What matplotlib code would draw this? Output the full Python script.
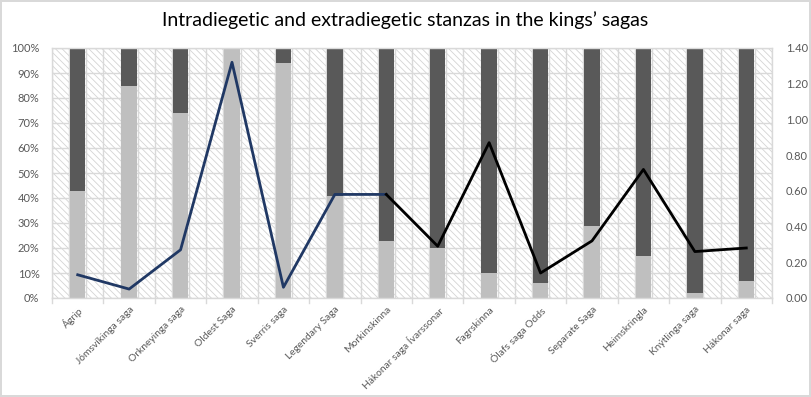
import numpy as np
import matplotlib
matplotlib.use("Agg")
import matplotlib.pyplot as plt
from matplotlib.patches import Rectangle
from matplotlib.ticker import PercentFormatter, FixedLocator

# Sagas and their share of intradiegetic stanzas (light) vs extradiegetic (dark)
sagas = ["Ágrip", "Jómsvíkinga saga", "Orkneyinga saga", "Oldest Saga", "Sverris saga",
         "Legendary Saga", "Morkinskinna", "Hákonar saga Ívarssonar", "Fagrskinna",
         "Ólafs saga Odds", "Separate Saga", "Heimskringla", "Knýtlinga saga", "Hákonar saga"]
intra_share = [0.43, 0.85, 0.74, 1.00, 0.94, 0.41, 0.23, 0.20, 0.10, 0.06, 0.29, 0.17, 0.02, 0.07]
extra_share = [1 - v for v in intra_share]

# Ratio series on the secondary axis: early sagas (blue) and later sagas (black)
ratio_early = [0.13, 0.05, 0.27, 1.32, 0.06, 0.58, 0.58]
ratio_late = [0.58, 0.29, 0.87, 0.14, 0.32, 0.72, 0.26, 0.28]

left_ticks = np.arange(0, 1.01, 0.1)
right_ticks = np.arange(0, 1.41, 0.2)

plt.rcParams["font.family"] = ["Lato", "DejaVu Sans"]
plt.rcParams["hatch.linewidth"] = 0.6
plt.rcParams["hatch.color"] = "#d4d4d4"

W, H = 811, 397
fig = plt.figure(figsize=(W / 100, H / 100), dpi=100)
fig.patch.set_facecolor("white")
fig.patch.set_edgecolor("#d9d9d9")
fig.patch.set_linewidth(1.5)

ax = fig.add_axes([52 / W, 1 - 298 / H, (772 - 52) / W, (298 - 48) / H])
x = np.arange(len(sagas))

# hatched plot-area background
bg = Rectangle((0, 0), 1, 1, transform=ax.transAxes, facecolor="white",
               edgecolor="#d4d4d4", hatch="\\\\\\\\\\", linewidth=0, zorder=0)
ax.add_patch(bg)

grid_c = "#d9d9d9"
ax.set_xlim(-0.5, len(sagas) - 0.5)
ax.set_ylim(0, 1)
ax.yaxis.set_major_locator(FixedLocator(left_ticks))
ax.yaxis.set_major_formatter(PercentFormatter(1.0, decimals=0))
ax.grid(axis="y", color=grid_c, linewidth=1, zorder=1)
ax.set_xticks(x)
ax.set_xticks(np.arange(-0.5, len(sagas) - 0.4, 1 / 3), minor=True)
ax.grid(axis="x", which="minor", color=grid_c, linewidth=1, zorder=1)
ax.set_axisbelow(True)

bw = 0.3
ax.bar(x, intra_share, width=bw, color="#bfbfbf", zorder=2)
ax.bar(x, extra_share, width=bw, bottom=intra_share, color="#595959", zorder=2)

for s in ax.spines.values():
    s.set_color(grid_c)
    s.set_linewidth(1)

ax.tick_params(axis="y", length=0, labelsize=8, labelcolor="#595959", pad=9)
ax.tick_params(axis="x", which="major", length=0, labelsize=7.4, labelcolor="#595959", pad=5)
ax.tick_params(axis="x", which="minor", length=0)
ax.set_xticklabels(sagas, rotation=45, ha="right", va="top", rotation_mode="anchor")

# boundary tick marks under the category axis
for b in np.arange(-0.5, len(sagas), 1):
    ax.plot([b, b], [0, -0.018], color=grid_c, linewidth=1, clip_on=False, zorder=1)

ax2 = ax.twinx()
ax2.set_ylim(0, 1.4)
ax2.yaxis.set_major_locator(FixedLocator(right_ticks))
ax2.set_yticklabels([f"{v:.2f}" for v in right_ticks])
ax2.tick_params(axis="y", length=0, labelsize=8, labelcolor="#595959", pad=10)
for s in ax2.spines.values():
    s.set_visible(False)

ax2.plot(x[:len(ratio_early)], ratio_early, color="#203864", linewidth=2, zorder=4)
ax2.plot(x[len(ratio_early) - 1:], ratio_late, color="black", linewidth=2, zorder=4)

fig.text(0.5, 1 - 20 / H, "Intradiegetic and extradiegetic stanzas in the kings\u2019 sagas",
         ha="center", va="center", fontsize=14, color="#000000")

fig.savefig("out.png", dpi=100)
